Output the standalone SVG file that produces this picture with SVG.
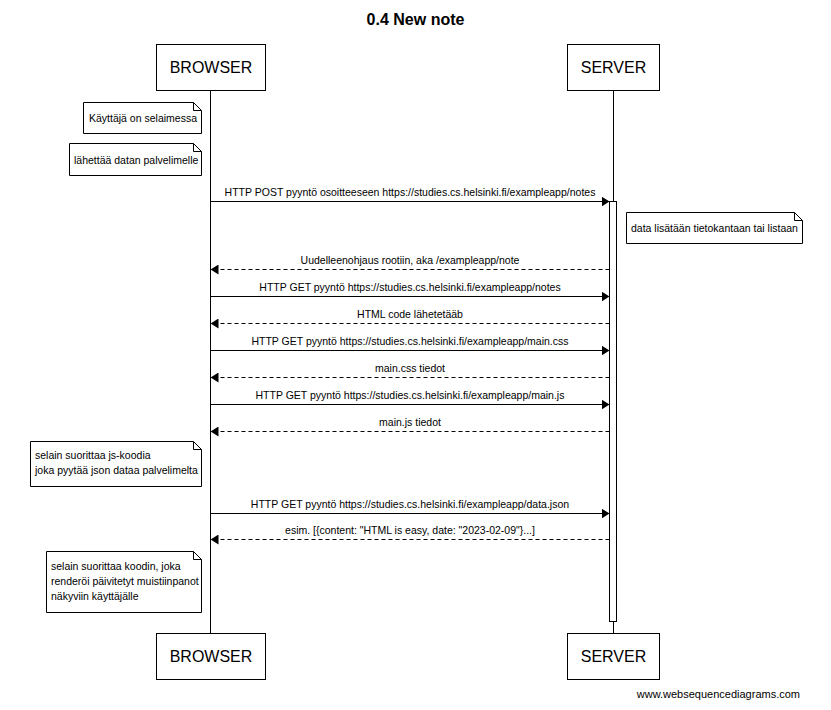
<svg xmlns="http://www.w3.org/2000/svg" width="831" height="710" viewBox="0 0 831 710">
<defs>
<style>
text{font-family:"Liberation Sans",Arial,sans-serif;fill:#000}
.title{font-size:16px;font-weight:bold;text-anchor:middle}
.actor{font-size:16px;text-anchor:middle}
.lbl{font-size:10.5px;text-anchor:middle}
.nt{font-size:10.5px}
.foot{font-size:11px;text-anchor:end}
.box{fill:#fff;stroke:#000;stroke-width:1}
.life{stroke:#000;stroke-width:1;fill:none}
.msg{stroke:#000;stroke-width:1;fill:none;marker-end:url(#ah)}
.ret{stroke:#000;stroke-width:1;fill:none;stroke-dasharray:4,3;marker-end:url(#ah)}
.note{fill:#fff;stroke:#000;stroke-width:1}
.fold{fill:none;stroke:#000;stroke-width:1}
</style>
<marker id="ah" viewBox="0 0 8 10" refX="8" refY="5" markerWidth="8" markerHeight="10" markerUnits="userSpaceOnUse" orient="auto">
<path d="M0,0 L8,5 L0,10 Z" fill="#000"/>
</marker>
</defs>
<rect width="831" height="710" fill="#fff"/>
<text class="title" x="415.5" y="25">0.4 New note</text>

<g id="lifelines">
<line class="life" x1="210.5" y1="90" x2="210.5" y2="633"/>
<line class="life" x1="613.5" y1="90" x2="613.5" y2="633"/>
<rect class="box" x="609.5" y="201.5" width="7" height="420"/>
</g>

<g id="browser">
<rect class="box" x="156.5" y="44.5" width="109" height="46"/>
<text class="actor" x="211" y="73">BROWSER</text>
<rect class="box" x="156.5" y="633.5" width="109" height="46"/>
<text class="actor" x="211" y="662">BROWSER</text>
</g>

<g id="server">
<rect class="box" x="567.5" y="44.5" width="92" height="46"/>
<text class="actor" x="613.5" y="73">SERVER</text>
<rect class="box" x="567.5" y="633.5" width="92" height="46"/>
<text class="actor" x="613.5" y="662">SERVER</text>
</g>

<g id="note1">
<path class="note" d="M83.5,102.5 H193.5 L201.5,110.5 V133.5 H83.5 Z"/>
<path class="fold" d="M193.5,102.5 V110.5 H201.5"/>
<text class="nt" x="89" y="122">Käyttäjä on selaimessa</text>
</g>
<g id="note2">
<path class="note" d="M69.5,143.5 H193.5 L201.5,151.5 V175.5 H69.5 Z"/>
<path class="fold" d="M193.5,143.5 V151.5 H201.5"/>
<text class="nt" x="74" y="164">lähettää datan palvelimelle</text>
</g>
<g id="note3">
<path class="note" d="M626.5,212.5 H794.5 L802.5,220.5 V243.5 H626.5 Z"/>
<path class="fold" d="M794.5,212.5 V220.5 H802.5"/>
<text class="nt" x="631" y="232">data lisätään tietokantaan tai listaan</text>
</g>
<g id="note4">
<path class="note" d="M30.5,441.5 H193.5 L201.5,449.5 V486.5 H30.5 Z"/>
<path class="fold" d="M193.5,441.5 V449.5 H201.5"/>
<text class="nt" x="35" y="459">selain suorittaa js-koodia</text>
<text class="nt" x="35" y="474">joka pyytää json dataa palvelimelta</text>
</g>
<g id="note5">
<path class="note" d="M46.5,551.5 H193.5 L201.5,559.5 V612.5 H46.5 Z"/>
<path class="fold" d="M193.5,551.5 V559.5 H201.5"/>
<text class="nt" x="51" y="570">selain suorittaa koodin, joka</text>
<text class="nt" x="51" y="585">renderöi päivitetyt muistiinpanot</text>
<text class="nt" x="51" y="600">näkyviin käyttäjälle</text>
</g>

<g id="connectors">
<line class="msg" x1="210.5" y1="201.5" x2="609.5" y2="201.5"/>
<text class="lbl" x="410" y="196">HTTP POST pyyntö osoitteeseen https://studies.cs.helsinki.fi/exampleapp/notes</text>
<line class="ret" x1="609.5" y1="269.5" x2="210.5" y2="269.5"/>
<text class="lbl" x="410" y="264">Uudelleenohjaus rootiin, aka /exampleapp/note</text>
<line class="msg" x1="210.5" y1="296.5" x2="609.5" y2="296.5"/>
<text class="lbl" x="410" y="291">HTTP GET pyyntö https://studies.cs.helsinki.fi/exampleapp/notes</text>
<line class="ret" x1="609.5" y1="323.5" x2="210.5" y2="323.5"/>
<text class="lbl" x="410" y="318">HTML code lähetetääb</text>
<line class="msg" x1="210.5" y1="350.5" x2="609.5" y2="350.5"/>
<text class="lbl" x="410" y="345">HTTP GET pyyntö https://studies.cs.helsinki.fi/exampleapp/main.css</text>
<line class="ret" x1="609.5" y1="377.5" x2="210.5" y2="377.5"/>
<text class="lbl" x="410" y="372">main.css tiedot</text>
<line class="msg" x1="210.5" y1="404.5" x2="609.5" y2="404.5"/>
<text class="lbl" x="410" y="399">HTTP GET pyyntö https://studies.cs.helsinki.fi/exampleapp/main.js</text>
<line class="ret" x1="609.5" y1="431.5" x2="210.5" y2="431.5"/>
<text class="lbl" x="410" y="426">main.js tiedot</text>
<line class="msg" x1="210.5" y1="513.5" x2="609.5" y2="513.5"/>
<text class="lbl" x="410" y="508">HTTP GET pyyntö https://studies.cs.helsinki.fi/exampleapp/data.json</text>
<line class="ret" x1="609.5" y1="539.5" x2="210.5" y2="539.5"/>
<text class="lbl" x="410" y="534">esim. [{content: "HTML is easy, date: "2023-02-09"}...]</text>
</g>

<text class="foot" x="800" y="698">www.websequencediagrams.com</text>
</svg>
